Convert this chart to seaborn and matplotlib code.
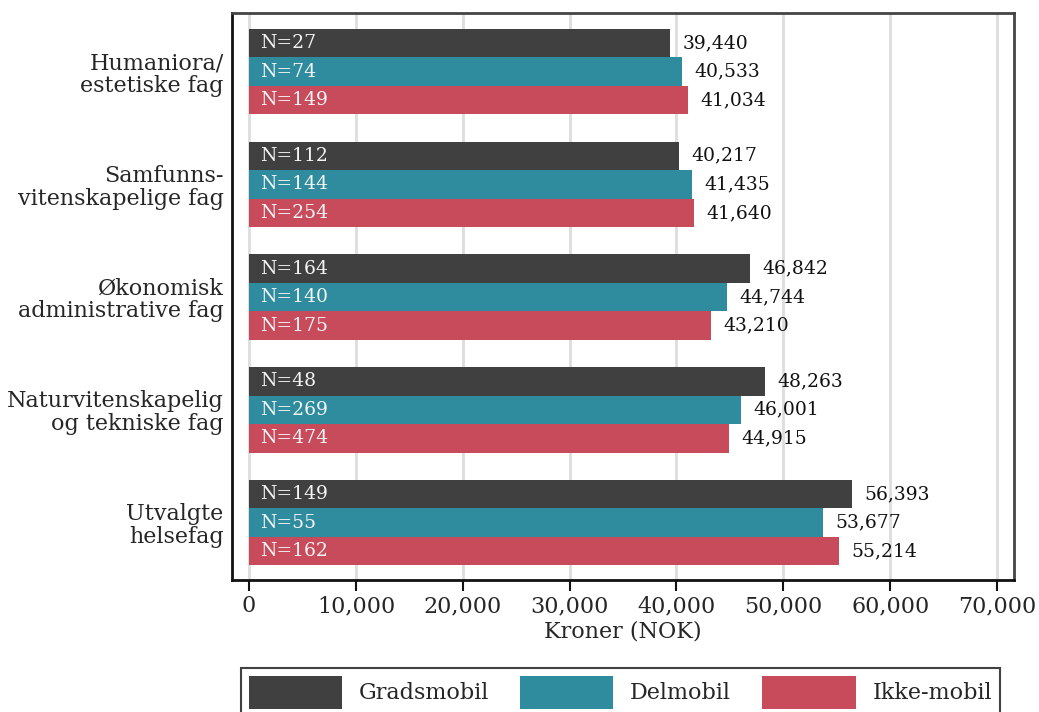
import matplotlib
matplotlib.use("Agg")
import matplotlib.pyplot as plt
import pandas as pd
import seaborn as sns

# data
fag = [
    "Humaniora/\nestetiske fag",
    "Samfunns-\nvitenskapelige fag",
    "Økonomisk\nadministrative fag",
    "Naturvitenskapelig\nog tekniske fag",
    "Utvalgte\nhelsefag",
]
grupper = ["Gradsmobil", "Delmobil", "Ikke-mobil"]
gradsmobil = [39440, 40217, 46842, 48263, 56393]
delmobil = [40533, 41435, 44744, 46001, 53677]
ikke_mobil = [41034, 41640, 43210, 44915, 55214]
n_gradsmobil = [27, 112, 164, 48, 149]
n_delmobil = [74, 144, 140, 269, 55]
n_ikke_mobil = [149, 254, 175, 474, 162]
farger = ["#404040", "#2e8c9e", "#c84b5b"]

rows = []
for g, verdier, ns in zip(grupper, [gradsmobil, delmobil, ikke_mobil],
                          [n_gradsmobil, n_delmobil, n_ikke_mobil]):
    for f, v, n in zip(fag, verdier, ns):
        rows.append({"fag": f, "gruppe": g, "kroner": v, "n": n})
df = pd.DataFrame(rows)

sns.set_style("white")
plt.rcParams["font.family"] = ["DejaVu Serif"]

fig = plt.figure(figsize=(10.39, 7.12), dpi=100)
ax = fig.add_axes([0.2233, 0.1854, 0.7527, 0.7963])

sns.barplot(data=df, y="fag", x="kroner", hue="gruppe", order=fag,
            hue_order=grupper, palette=farger, orient="h", width=0.76,
            saturation=1, dodge=True, ax=ax, errorbar=None, linewidth=0)

for container, g in zip(ax.containers, grupper):
    sub = df[df["gruppe"] == g].set_index("fag").loc[fag]
    ax.bar_label(container, labels=[f"{v:,}" for v in sub["kroner"]],
                 padding=9, fontsize=13.5, color="#111111")
    for bar, n in zip(container, sub["n"]):
        ax.text(1000, bar.get_y() + bar.get_height() / 2, f"N={n}",
                va="center", ha="left", fontsize=13.5, color="#f4f4f4")

ax.set_xlim(-1600, 71600)
ax.set_ylim(4.51, -0.52)
ax.set_xticks(range(0, 70001, 10000))
ax.set_xticklabels([f"{t:,}" for t in range(0, 70001, 10000)], fontsize=16)
ax.set_yticklabels(fag, fontsize=16, linespacing=1.05)
ax.set_xlabel("Kroner (NOK)", fontsize=16, labelpad=2)
ax.set_ylabel("")
ax.grid(axis="x", color="#dddddd", linewidth=2)
ax.set_axisbelow(True)
ax.tick_params(axis="x", direction="out", length=8, width=1.5, color="#111111",
               bottom=True, pad=3)
ax.tick_params(axis="y", length=0, pad=6)
for side in ["left", "bottom"]:
    ax.spines[side].set_color("#111111")
    ax.spines[side].set_linewidth(2)
for side in ["top", "right"]:
    ax.spines[side].set_color("#444444")
    ax.spines[side].set_linewidth(2)

handles, labels = ax.get_legend_handles_labels()
ax.get_legend().remove()
leg = fig.legend(handles, labels, loc="upper center", bbox_to_anchor=(0.597, 0.062),
                 ncol=3, fontsize=16, frameon=True, fancybox=False,
                 edgecolor="#111111", handlelength=4.2, handleheight=1.9,
                 handletextpad=0.75, columnspacing=1.4, borderaxespad=0,
                 borderpad=0.35)
leg.get_frame().set_linewidth(1.5)

fig.savefig("out.png", dpi=100)
